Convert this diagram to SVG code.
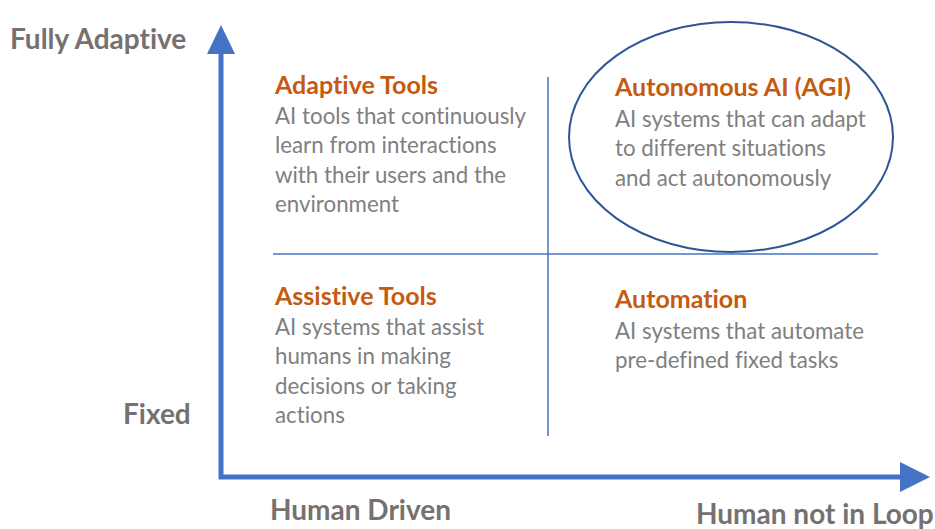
<svg xmlns="http://www.w3.org/2000/svg" width="935" height="529" viewBox="0 0 935 529">
<style>
text{font-variant-ligatures:none;font-feature-settings:"liga" 0,"dlig" 0}
.axis{font-family:"Lato","Liberation Sans",sans-serif;font-weight:bold;font-size:28px;fill:#767171}
.title{font-family:"Lato","Liberation Sans",sans-serif;font-weight:bold;font-size:25px;fill:#C55A11}
.body{font-family:"Lato","Liberation Sans",sans-serif;font-size:22.3px;fill:#7F7F7F}
.grid{stroke:#4472C4;stroke-width:1.5;fill:none}
.ax{stroke:#4472C4;stroke-width:5;fill:none}
</style>
<rect width="935" height="529" fill="#ffffff"/>
<g id="connectors">
<path class="ax" d="M221,52 L221,477 L902,477"/>
<polygon points="221,25 207,54 235,54" fill="#4472C4"/>
<polygon points="930,477 900,462 900,492" fill="#4472C4"/>
<line class="grid" x1="548" y1="77" x2="548" y2="436"/>
<line class="grid" x1="273" y1="254" x2="878" y2="254"/>
</g>
<g id="axis-labels">
<text class="axis" x="10" y="49">Fully Adaptive</text>
<text class="axis" x="123" y="424">Fixed</text>
<text class="axis" x="270" y="520">Human Driven</text>
<text class="axis" x="696" y="524">Human not in Loop</text>
</g>
<g id="adaptive-tools">
<text class="title" x="275" y="94">Adaptive Tools</text>
<text class="body" x="275" y="124">AI tools that continuously</text>
<text class="body" x="275" y="153">learn from interactions</text>
<text class="body" x="275" y="183">with their users and the</text>
<text class="body" x="275" y="212">environment</text>
</g>
<g id="autonomous-ai">
<ellipse cx="731" cy="137" rx="162" ry="115" fill="none" stroke="#2F5597" stroke-width="2"/>
<text class="title" x="615" y="96">Autonomous AI (AGI)</text>
<text class="body" x="615" y="127">AI systems that can adapt</text>
<text class="body" x="615" y="156">to different situations</text>
<text class="body" x="615" y="186">and act autonomously</text>
</g>
<g id="assistive-tools">
<text class="title" x="275" y="305">Assistive Tools</text>
<text class="body" x="275" y="335">AI systems that assist</text>
<text class="body" x="275" y="364">humans in making</text>
<text class="body" x="275" y="394">decisions or taking</text>
<text class="body" x="275" y="423">actions</text>
</g>
<g id="automation">
<text class="title" x="615" y="308">Automation</text>
<text class="body" x="615" y="339">AI systems that automate</text>
<text class="body" x="615" y="368">pre-defined fixed tasks</text>
</g>
</svg>
